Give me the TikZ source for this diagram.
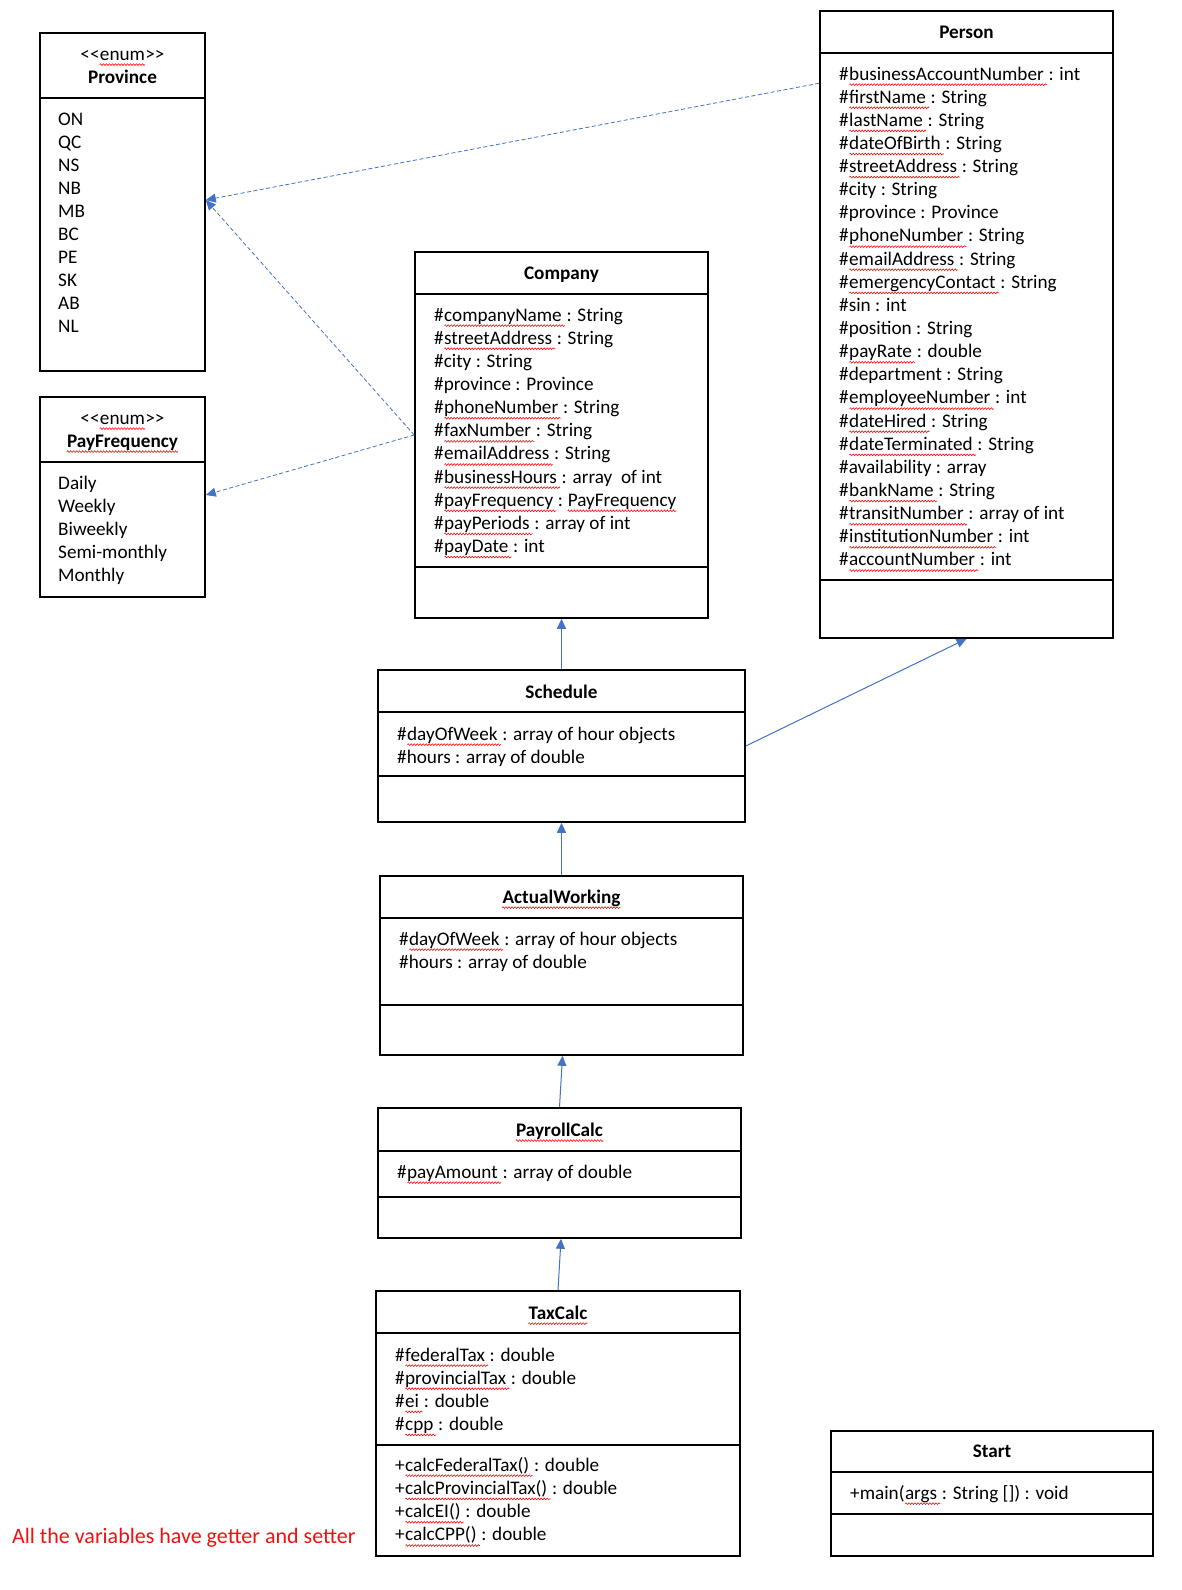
\documentclass[tikz,border=0pt]{standalone}
\usepackage{fontspec}
\setmainfont{Carlito}
\usetikzlibrary{arrows.meta,decorations.pathmorphing}
\definecolor{arr}{HTML}{4472C4}
\definecolor{notered}{HTML}{EE1111}
% attribute line: name, x, y, prefix, squiggled word, rest
\newcommand\aline[6]{%
 \node[attr] (#1a) at (#2,#3) {#4};
 \node[attr] (#1) at (#1a.base east) {#5};
 \draw[squig] ([yshift=-4.6pt,xshift=0.5pt]#1.base west) -- ([yshift=-4.6pt,xshift=3pt]#1.base east);
 \node[attr] (#1b) at (#1.base east) {#6};}
% plain line: name, x, y, text
\newcommand\pline[4]{\node[attr] (#1) at (#2,#3) {#4};}
% squiggled title: name, x, y, text
\newcommand\sqtitle[4]{\node[ttl] (#1) at (#2,#3) {#4};
 \draw[squig] ([yshift=-4.6pt]#1.base west) -- ([yshift=-4.6pt]#1.base east);}
% stereotype: name, x, y
\newcommand\enumst[3]{\node[stereo] (#1) at (#2,#3) {enum};
 \node[stereo,anchor=base east] (#1l) at (#1.base west) {{<}{<}};
 \node[stereo,anchor=base west] (#1r) at (#1.base east) {{>}{>}};
 \draw[squig] ([yshift=-4.6pt]#1.base west) -- ([yshift=-4.6pt]#1.base east);}
\begin{document}
\begin{tikzpicture}[x=1pt,y=-1pt,
  box/.style={draw=black,line width=1.6pt,inner sep=0pt,rectangle},
  div/.style={draw=black,line width=1.6pt},
  attr/.style={anchor=base west,inner sep=0pt,font=\fontsize{19.2}{23}\selectfont},
  ttl/.style={anchor=base,inner sep=0pt,font=\fontsize{19.2}{23}\selectfont\bfseries},
  stereo/.style={anchor=base,inner sep=0pt,font=\fontsize{19.2}{23}\selectfont},
  squig/.style={draw=red,line width=0.55pt,decorate,decoration={zigzag,amplitude=0.9pt,segment length=3pt}},
  inh/.style={draw=arr,line width=1pt,-{Triangle[length=10pt,width=9pt]}},
  dep/.style={draw=arr,line width=0.8pt,dash pattern=on 4pt off 2.5pt,-{Triangle[length=10pt,width=9pt]}}]
\useasboundingbox (0,0) rectangle (1181,1590);
\fill[white] (0,0) rectangle (1181,1590);

% ---------- Province ----------
\node[box,minimum width=165pt,minimum height=338pt] (prov) at (122.5,202) {};
\draw[div] (40,98) -- (205,98);
\enumst{provS}{122.5}{60}
\node[ttl] (provT) at (122.5,83) {Province};
\foreach \t [count=\i from 0] in {ON,QC,NS,NB,MB,BC,PE,SK,AB,NL}
  \node[attr] (pv\i) at (58,{125+\i*23.1}) {\t};

% ---------- PayFrequency ----------
\node[box,minimum width=165pt,minimum height=200pt] (payf) at (122.5,497) {};
\draw[div] (40,462) -- (205,462);
\enumst{payfS}{122.5}{424}
\sqtitle{payfT}{122.5}{447}{PayFrequency}
\foreach \t [count=\i from 0] in {Daily,Weekly,Biweekly,Semi-monthly,Monthly}
  \node[attr] (pf\i) at (58,{489+\i*23.2}) {\t};

% ---------- Company ----------
\node[box,minimum width=293pt,minimum height=366pt] (comp) at (561.5,435) {};
\draw[div] (415,294) -- (708,294);
\draw[div] (415,567) -- (708,567);
\node[ttl] (compT) at (561.5,279) {Company};
\aline{cm0}{434}{321}{\#}{companyName}{\ : String}
\aline{cm1}{434}{344.15}{\#}{streetAddress}{\ : String}
\pline{cm2}{434}{367.3}{\#city : String}
\pline{cm3}{434}{390.45}{\#province : Province}
\aline{cm4}{434}{413.6}{\#}{phoneNumber}{\ : String}
\aline{cm5}{434}{436.75}{\#}{faxNumber}{\ : String}
\aline{cm6}{434}{459.9}{\#}{emailAddress}{\ : String}
\aline{cm7}{434}{483.05}{\#}{businessHours}{\ : array \ of int}
\aline{cm8}{434}{506.2}{\#}{payFrequency}{\ :\ \mbox{}}
\node[attr] (cm8c) at (cm8b.base east) {PayFrequency};
\draw[squig] ([yshift=-4.6pt]cm8c.base west) -- ([yshift=-4.6pt]cm8c.base east);
\aline{cm9}{434}{529.35}{\#}{payPeriods}{\ : array of int}
\aline{cm10}{434}{552.5}{\#}{payDate}{\ : int}

% ---------- Person ----------
\node[box,minimum width=293pt,minimum height=627pt] (pers) at (966.5,324.5) {};
\draw[div] (820,53) -- (1113,53);
\draw[div] (820,580) -- (1113,580);
\node[ttl] (persT) at (966.5,38) {Person};
\aline{ps0}{839}{80}{\#}{businessAccountNumber}{\ : int}
\aline{ps1}{839}{103.14}{\#}{firstName}{\ : String}
\aline{ps2}{839}{126.28}{\#}{lastName}{\ : String}
\aline{ps3}{839}{149.42}{\#}{dateOfBirth}{\ : String}
\aline{ps4}{839}{172.56}{\#}{streetAddress}{\ : String}
\pline{ps5}{839}{195.7}{\#city : String}
\pline{ps6}{839}{218.84}{\#province : Province}
\aline{ps7}{839}{241.98}{\#}{phoneNumber}{\ : String}
\aline{ps8}{839}{265.12}{\#}{emailAddress}{\ : String}
\aline{ps9}{839}{288.26}{\#}{emergencyContact}{\ : String}
\pline{ps10}{839}{311.4}{\#sin : int}
\pline{ps11}{839}{334.54}{\#position : String}
\aline{ps12}{839}{357.68}{\#}{payRate}{\ : double}
\pline{ps13}{839}{380.82}{\#department : String}
\aline{ps14}{839}{403.96}{\#}{employeeNumber}{\ : int}
\aline{ps15}{839}{427.1}{\#}{dateHired}{\ : String}
\aline{ps16}{839}{450.24}{\#}{dateTerminated}{\ : String}
\pline{ps17}{839}{473.38}{\#availability : array}
\aline{ps18}{839}{496.52}{\#}{bankName}{\ : String}
\aline{ps19}{839}{519.66}{\#}{transitNumber}{\ : array of int}
\aline{ps20}{839}{542.8}{\#}{institutionNumber}{\ : int}
\aline{ps21}{839}{565.94}{\#}{accountNumber}{\ : int}

% ---------- Schedule ----------
\node[box,minimum width=367pt,minimum height=152pt] (sched) at (561.5,746) {};
\draw[div] (378,712) -- (745,712);
\draw[div] (378,776) -- (745,776);
\node[ttl] (schedT) at (561.5,698) {Schedule};
\aline{sc0}{397}{740}{\#}{dayOfWeek}{\ : array of hour objects}
\pline{sc1}{397}{763}{\#hours : array of double}

% ---------- ActualWorking ----------
\node[box,minimum width=363pt,minimum height=179pt] (actw) at (561.5,965.5) {};
\draw[div] (380,918) -- (743,918);
\draw[div] (380,1005) -- (743,1005);
\sqtitle{actwT}{561.5}{903}{ActualWorking}
\aline{aw0}{399}{945}{\#}{dayOfWeek}{\ : array of hour objects}
\pline{aw1}{399}{968}{\#hours : array of double}

% ---------- PayrollCalc ----------
\node[box,minimum width=363pt,minimum height=130pt] (payr) at (559.5,1173) {};
\draw[div] (378,1151) -- (741,1151);
\draw[div] (378,1197) -- (741,1197);
\sqtitle{payrT}{559.5}{1136}{PayrollCalc}
\aline{pr0}{397}{1178}{\#}{payAmount}{\ : array of double}

% ---------- TaxCalc ----------
\node[box,minimum width=364pt,minimum height=265pt] (tax) at (558,1423.5) {};
\draw[div] (376,1333) -- (740,1333);
\draw[div] (376,1445) -- (740,1445);
\sqtitle{taxT}{558}{1319}{TaxCalc}
\aline{tx0}{395}{1361}{\#}{federalTax}{\ : double}
\aline{tx1}{395}{1384.1}{\#}{provincialTax}{\ : double}
\aline{tx2}{395}{1407.2}{\#}{ei}{\ : double}
\aline{tx3}{395}{1430.3}{\#}{cpp}{\ : double}
\aline{tm0}{395}{1471}{+}{calcFederalTax()}{\ : double}
\aline{tm1}{395}{1494.3}{+}{calcProvincialTax()}{\ : double}
\aline{tm2}{395}{1517.6}{+}{calcEI()}{\ : double}
\aline{tm3}{395}{1540.9}{+}{calcCPP()}{\ : double}

% ---------- Start ----------
\node[box,minimum width=322pt,minimum height=125pt] (start) at (992,1493.5) {};
\draw[div] (831,1472) -- (1153,1472);
\draw[div] (831,1514) -- (1153,1514);
\node[ttl] (startT) at (992,1457) {Start};
\aline{st0}{850}{1499}{+main(}{args}{\ : String []) : void}

% ---------- note ----------
\node[attr,text=notered,font=\fontsize{22}{26}\selectfont] (note) at (12,1543.5) {All the variables have getter and setter};

% ---------- connectors ----------
\draw[dep] ([yshift=-73pt]pers.north west) -- ([yshift=2pt]prov.east);
\draw[dep] (comp.west) -- ([yshift=2pt]prov.east);
\draw[dep] (comp.west) -- ([yshift=2pt]payf.east);
\draw[inh] (sched.north) -- (comp.south);
\draw[inh] (sched.east) -- (pers.south);
\draw[inh] (actw.north) -- (sched.south);
\draw[inh] (payr.north) -- ([xshift=1pt]actw.south);
\draw[inh] (tax.north) -- ([xshift=1.5pt]payr.south);
\end{tikzpicture}
\end{document}
